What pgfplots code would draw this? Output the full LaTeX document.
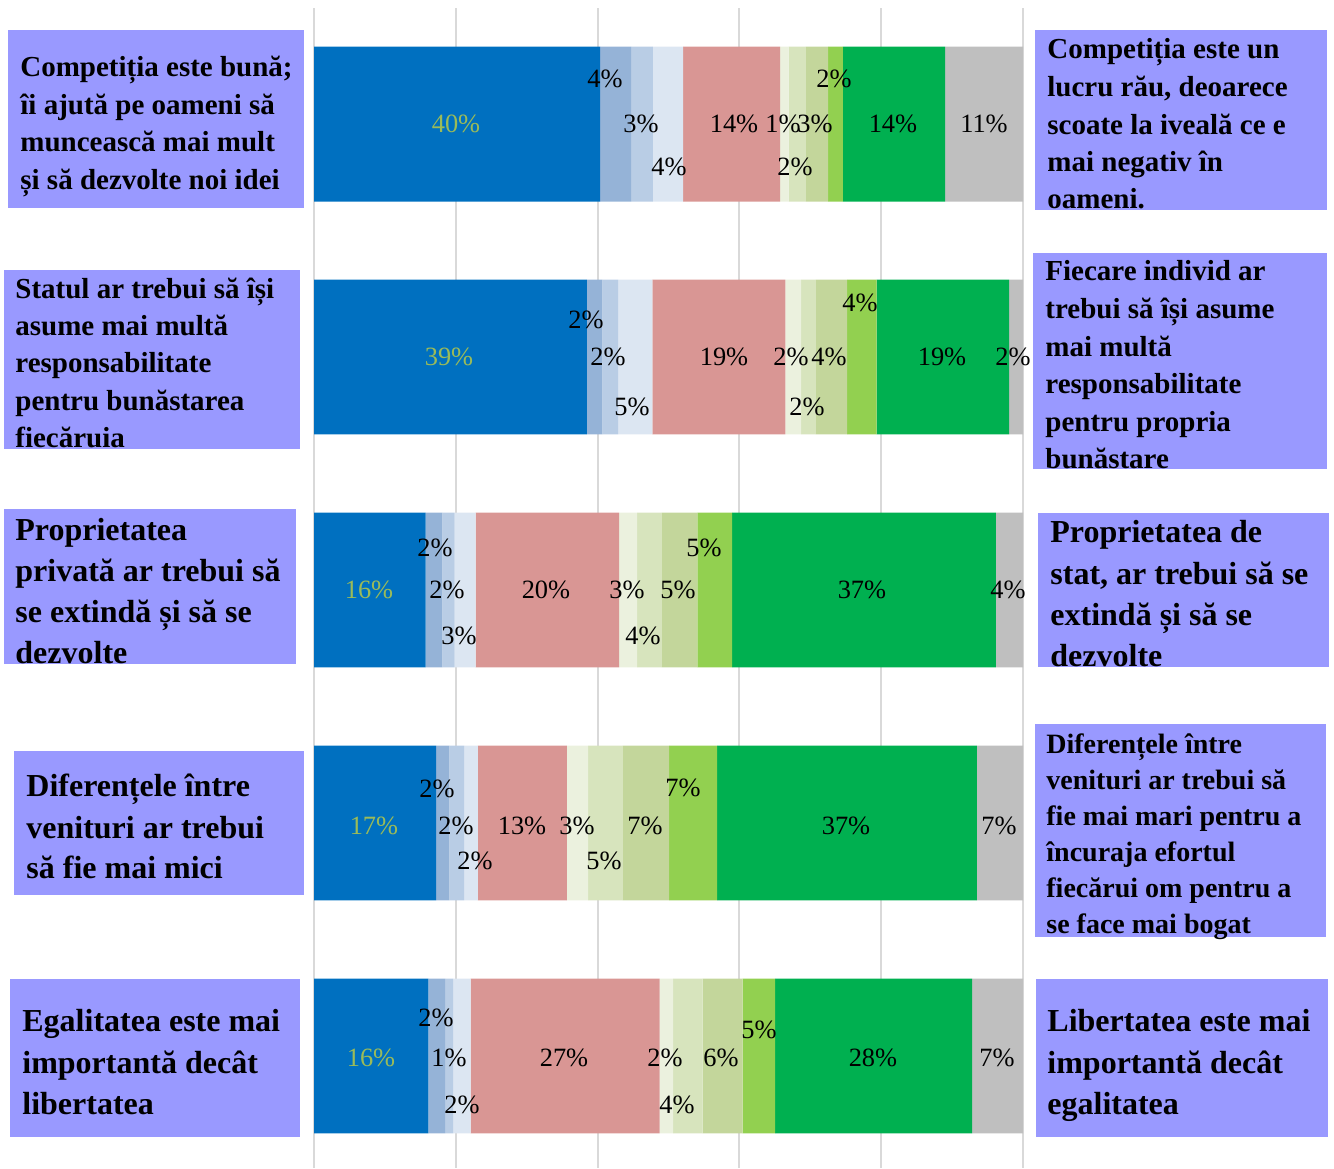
\documentclass[border=0pt]{standalone}
\usepackage{pgfplots}
\pgfplotsset{compat=1.18}
\usepackage{pgfplotstable}
\usepackage{fontspec}
\setmainfont{Liberation Serif}
\definecolor{c1}{RGB}{0,112,192}
\definecolor{c2}{RGB}{149,179,215}
\definecolor{c3}{RGB}{185,205,229}
\definecolor{c4}{RGB}{220,230,242}
\definecolor{c5}{RGB}{217,150,148}
\definecolor{c6}{RGB}{235,241,222}
\definecolor{c7}{RGB}{215,228,189}
\definecolor{c8}{RGB}{195,214,155}
\definecolor{c9}{RGB}{146,208,80}
\definecolor{c10}{RGB}{0,176,80}
\definecolor{c11}{RGB}{191,191,191}
\definecolor{boxfill}{RGB}{153,153,255}
\definecolor{gridgray}{RGB}{217,217,217}
\definecolor{lblolive}{RGB}{155,187,89}

\pgfplotstableread{
y s1 s2 s3 s4 s5 s6 s7 s8 s9 s10 s11
1 40.34 4.37 3.10 4.24 13.68 1.22 2.44 3.11 2.11 14.39 11.00
2 38.50 2.16 2.22 4.83 18.76 2.22 2.11 4.38 4.19 18.66 1.97
3 15.75 2.35 1.74 2.97 20.21 2.54 3.52 4.98 4.90 37.23 3.81
4 17.21 1.87 2.08 1.97 12.55 2.97 4.93 6.49 6.77 36.67 6.49
5 16.12 2.36 1.13 2.49 26.66 1.88 4.18 5.65 4.55 27.79 7.19
}\datatable

\newcommand{\bline}[4]{\node[anchor=base west, inner sep=0pt, font=\bfseries\fontsize{#1}{#1}\selectfont] at (#2,#3) {#4};}

\begin{document}
\begin{tikzpicture}
\useasboundingbox (0,0) rectangle (667pt,-584pt);
\pgfplotsset{
  geom/.style={at={(157pt,-4pt)}, anchor=north west, scale only axis,
    width=354.5pt, height=580pt, xmin=0, xmax=100, ymin=0.5021, ymax=5.4807,
    y dir=reverse}
}
\begin{axis}[geom, xbar stacked, bar width=0.665,
  xtick={0,20,40,60,80,100}, xticklabels={}, ytick=\empty,
  xmajorgrids, grid style={draw=gridgray, line width=1pt},
  axis line style={draw=none}, major tick length=0pt]
\addplot[fill=c1, draw=none] table[x=s1,y=y]{\datatable};
\addplot[fill=c2, draw=none] table[x=s2,y=y]{\datatable};
\addplot[fill=c3, draw=none] table[x=s3,y=y]{\datatable};
\addplot[fill=c4, draw=none] table[x=s4,y=y]{\datatable};
\addplot[fill=c5, draw=none] table[x=s5,y=y]{\datatable};
\addplot[fill=c6, draw=none] table[x=s6,y=y]{\datatable};
\addplot[fill=c7, draw=none] table[x=s7,y=y]{\datatable};
\addplot[fill=c8, draw=none] table[x=s8,y=y]{\datatable};
\addplot[fill=c9, draw=none] table[x=s9,y=y]{\datatable};
\addplot[fill=c10, draw=none] table[x=s10,y=y]{\datatable};
\addplot[fill=c11, draw=none] table[x=s11,y=y]{\datatable};
\end{axis}

\begin{axis}[geom, hide axis, clip=false]
\addplot[draw=none, mark=none, nodes near coords, point meta=explicit symbolic,
  nodes near coords style={anchor=center, inner sep=0pt, text=lblolive, font=\fontsize{13.2}{13.2}\selectfont}]
coordinates {(20.03,1.0)[40\%] (19.04,2.0)[39\%] (7.76,3.0)[16\%] (8.46,4.013)[17\%] (8.04,5.009)[16\%]};
\addplot[draw=none, mark=none, nodes near coords, point meta=explicit symbolic,
  nodes near coords style={anchor=center, inner sep=0pt, text=black, font=\fontsize{13.2}{13.2}\selectfont}]
coordinates {
(41.04,0.807)[4\%] (46.12,1.0)[3\%] (50.07,1.185)[4\%] (59.24,1.0)[14\%] (66.15,1.0)[1\%]
(67.84,1.185)[2\%] (70.66,1.0)[3\%] (73.34,0.807)[2\%] (81.66,1.0)[14\%] (94.50,1.0)[11\%]
(38.36,1.841)[2\%] (41.47,2.0)[2\%] (44.85,2.215)[5\%] (57.83,2.0)[19\%] (67.28,2.0)[2\%]
(69.53,2.215)[2\%] (72.64,2.0)[4\%] (77.01,1.768)[4\%] (88.58,2.0)[19\%] (98.59,2.0)[2\%]
(17.07,2.820)[2\%] (18.76,3.0)[2\%] (20.45,3.197)[3\%] (32.72,3.0)[20\%] (44.15,3.0)[3\%]
(46.40,3.197)[4\%] (51.34,3.0)[5\%] (55.01,2.820)[5\%] (77.29,3.0)[37\%] (97.88,3.0)[4\%]
(17.35,3.854)[2\%] (20.03,4.013)[2\%] (22.71,4.163)[2\%] (29.34,4.013)[13\%] (37.09,4.013)[3\%]
(40.90,4.163)[5\%] (46.69,4.013)[7\%] (52.05,3.850)[7\%] (75.04,4.013)[37\%] (96.61,4.013)[7\%]
(17.21,4.837)[2\%] (19.04,5.009)[1\%] (20.87,5.210)[2\%] (35.26,5.009)[27\%] (49.51,5.009)[2\%]
(51.20,5.210)[4\%] (57.40,5.009)[6\%] (62.76,4.888)[5\%] (78.84,5.009)[28\%] (96.33,5.009)[7\%]
};
\end{axis}

\begin{scope}[x=0.5pt, y=-0.5pt]
\fill[boxfill] (8,30) rectangle (304,208);
\bline{14.5}{20}{76}{Competiția este bună;}
\bline{14.5}{20}{114}{îi ajută pe oameni să}
\bline{14.5}{20}{151}{muncească mai mult}
\bline{14.5}{20}{189}{și să dezvolte noi idei}

\fill[boxfill] (1035,30) rectangle (1327,210);
\bline{14.5}{1047}{58}{Competiția este un}
\bline{14.5}{1047}{96}{lucru rău, deoarece}
\bline{14.5}{1047}{134}{scoate la iveală ce e}
\bline{14.5}{1047}{171}{mai negativ în}
\bline{14.5}{1047}{208}{oameni.}

\fill[boxfill] (4,270) rectangle (300,449);
\bline{14.5}{15}{298}{Statul ar trebui să își}
\bline{14.5}{15}{335}{asume mai multă}
\bline{14.5}{15}{372}{responsabilitate}
\bline{14.5}{15}{410}{pentru bunăstarea}
\bline{14.5}{15}{447}{fiecăruia}

\fill[boxfill] (1033,253) rectangle (1327,469);
\bline{14.5}{1045}{280}{Fiecare individ ar}
\bline{14.5}{1045}{318}{trebui să își asume}
\bline{14.5}{1045}{356}{mai multă}
\bline{14.5}{1045}{393}{responsabilitate}
\bline{14.5}{1045}{431}{pentru propria}
\bline{14.5}{1045}{468}{bunăstare}

\fill[boxfill] (4,509) rectangle (296,664);
\bline{16}{15}{540}{Proprietatea}
\bline{16}{15}{581}{privată ar trebui să}
\bline{16}{15}{622}{se extindă și să se}
\bline{16}{15}{663}{dezvolte}

\fill[boxfill] (1038,513) rectangle (1329,667);
\bline{16}{1050}{542}{Proprietatea de}
\bline{16}{1050}{584}{stat, ar trebui să se}
\bline{16}{1050}{625}{extindă și să se}
\bline{16}{1050}{666}{dezvolte}

\fill[boxfill] (14,751) rectangle (304,895);
\bline{16}{26}{796}{Diferențele între}
\bline{16}{26}{838}{venituri ar trebui}
\bline{16}{26}{878}{să fie mai mici}

\fill[boxfill] (1035,724) rectangle (1326,937);
\bline{14}{1046}{753}{Diferențele între}
\bline{14}{1046}{789}{venituri ar trebui să}
\bline{14}{1046}{825}{fie mai mari pentru a}
\bline{14}{1046}{861}{încuraja efortul}
\bline{14}{1046}{897}{fiecărui om pentru a}
\bline{14}{1046}{933}{se face mai bogat}

\fill[boxfill] (10,979) rectangle (300,1137);
\bline{16}{22}{1031}{Egalitatea este mai}
\bline{16}{22}{1073}{importantă decât}
\bline{16}{22}{1114}{libertatea}

\fill[boxfill] (1036,979) rectangle (1328,1137);
\bline{16}{1047}{1031}{Libertatea este mai}
\bline{16}{1047}{1073}{importantă decât}
\bline{16}{1047}{1114}{egalitatea}
\end{scope}
\end{tikzpicture}
\end{document}
